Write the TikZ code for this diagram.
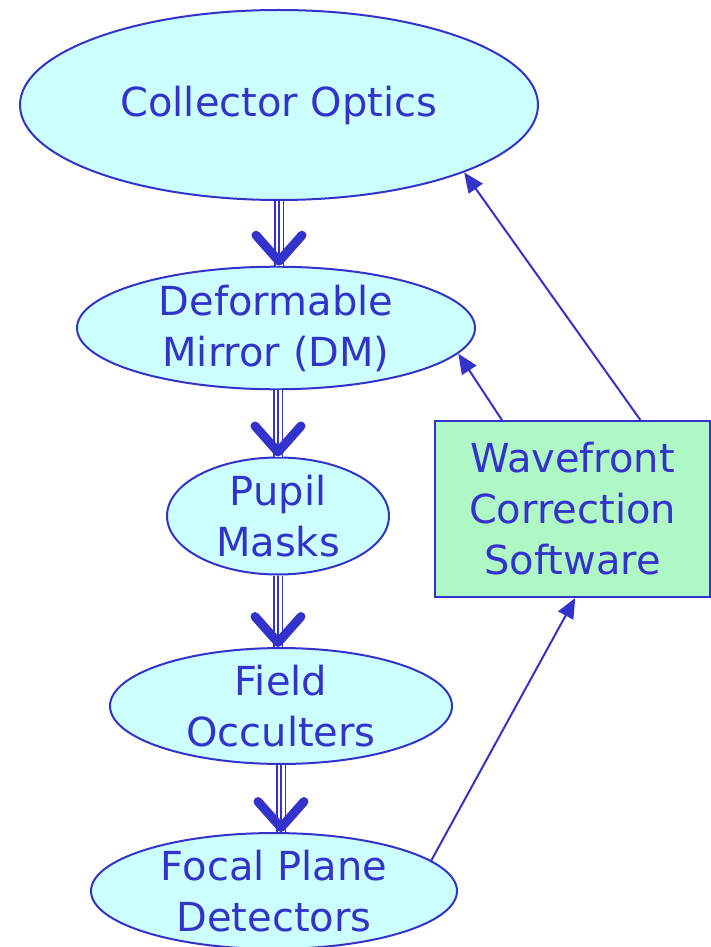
\documentclass[tikz,border=0pt]{standalone}
\usepackage{fontspec}
\setmainfont{DejaVu Sans}
\usetikzlibrary{shapes.geometric,arrows.meta,positioning,calc}

\definecolor{wfblue}{HTML}{3333CC}
\definecolor{wfcyan}{HTML}{CCFFFF}
\definecolor{wfgreen}{HTML}{B0F7C6}

\tikzset{
  stage/.style={ellipse, draw=wfblue, fill=wfcyan, line width=2pt, inner sep=0pt,
    text=wfblue, align=center, font=\fontsize{40}{51}\selectfont},
  softbox/.style={rectangle, draw=wfblue, fill=wfgreen, line width=2pt, inner sep=0pt,
    text=wfblue, align=center, font=\fontsize{40}{51}\selectfont},
  tripleline/.style={draw=wfblue, line width=1.4pt,
    -{Straight Barb[length=26pt,width=46pt,line width=9pt,round]},
    preaction={draw=wfblue, line width=1.4pt, double=white, double distance=7pt, arrows=-}},
  feedback/.style={draw=wfblue, line width=2pt, -{Triangle[length=20pt,width=17pt]}}
}

\begin{document}
\begin{tikzpicture}[x=1pt, y=-1pt]

\useasboundingbox (0,0) rectangle (711,947);

% optical train
\node[stage, minimum width=518pt, minimum height=190pt] (co) at (279,105) {Collector Optics};
\node[stage, minimum width=398pt, minimum height=103pt] (dm) at (276,328) {Deformable\\Mirror (DM)};
\node[stage, minimum width=222pt, minimum height=117pt] (pm) at (278,516) {Pupil\\Masks};
\node[stage, minimum width=342pt, minimum height=112pt] (fo) at (281,706) {Field\\Occulters};
\node[stage, minimum width=366pt, minimum height=112pt] (fpd) at (274,891) {Focal Plane\\Detectors};

% software box
\node[softbox, minimum width=275pt, minimum height=176pt] (wcs) at (572.5,509) {Wavefront\\Correction\\Software};

% light path
\draw[tripleline] (co.south) -- (co.south |- dm.north);
\draw[tripleline] (dm.south -| pm.north) -- (pm.north);
\draw[tripleline] (pm.south) -- (pm.south |- fo.north);
\draw[tripleline] (fo.south) -- (fo.south |- fpd.north);

% control loop
\draw[feedback] (fpd.11) -- ($(wcs.south west)!0.51!(wcs.south east)$);
\draw[feedback] ($(wcs.north west)!0.245!(wcs.north east)$) -- (dm.-8);
\draw[feedback] ($(wcs.north west)!0.745!(wcs.north east)$) -- (co.-20);

\end{tikzpicture}
\end{document}
